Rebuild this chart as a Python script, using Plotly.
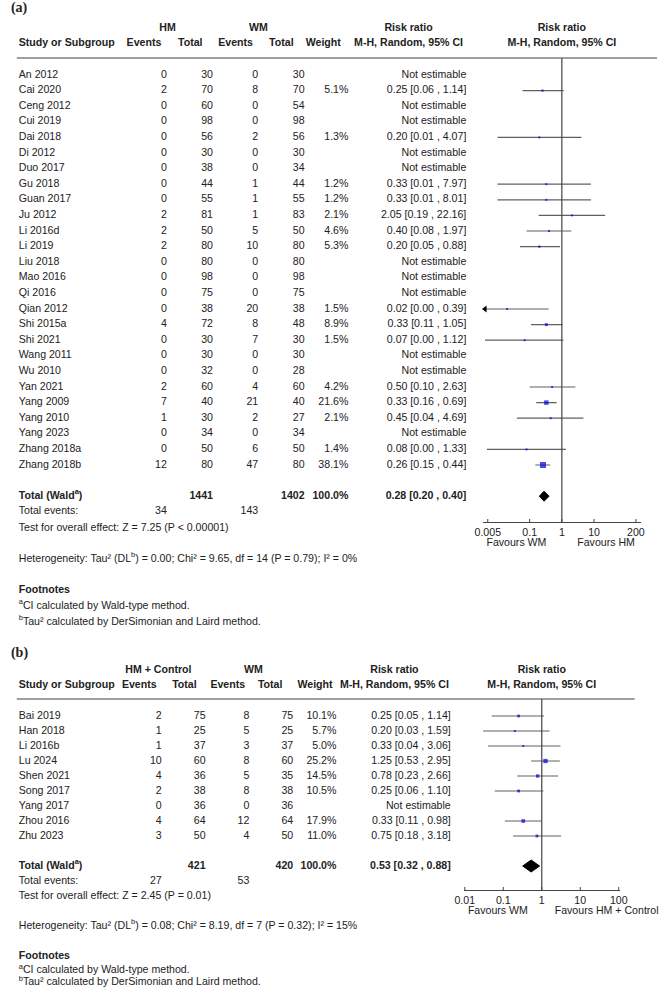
import math
import plotly.graph_objects as go

# ---------------- Data: panel (a) HM vs WM ----------------
studies_a = ["An 2012", "Cai 2020", "Ceng 2012", "Cui 2019", "Dai 2018", "Di 2012", "Duo 2017",
             "Gu 2018", "Guan 2017", "Ju 2012", "Li 2016d", "Li 2019", "Liu 2018", "Mao 2016",
             "Qi 2016", "Qian 2012", "Shi 2015a", "Shi 2021", "Wang 2011", "Wu 2010", "Yan 2021",
             "Yang 2009", "Yang 2010", "Yang 2023", "Zhang 2018a", "Zhang 2018b"]
hm_events_a = [0, 2, 0, 0, 0, 0, 0, 0, 0, 2, 2, 2, 0, 0, 0, 0, 4, 0, 0, 0, 2, 7, 1, 0, 0, 12]
hm_total_a = [30, 70, 60, 98, 56, 30, 38, 44, 55, 81, 50, 80, 80, 98, 75, 38, 72, 30, 30, 32, 60, 40, 30, 34, 50, 80]
wm_events_a = [0, 8, 0, 0, 2, 0, 0, 1, 1, 1, 5, 10, 0, 0, 0, 20, 8, 7, 0, 0, 4, 21, 2, 0, 6, 47]
wm_total_a = [30, 70, 54, 98, 56, 30, 34, 44, 55, 83, 50, 80, 80, 98, 75, 38, 48, 30, 30, 28, 60, 40, 27, 34, 50, 80]
weight_a = [None, 5.1, None, None, 1.3, None, None, 1.2, 1.2, 2.1, 4.6, 5.3, None, None, None,
            1.5, 8.9, 1.5, None, None, 4.2, 21.6, 2.1, None, 1.4, 38.1]
rr_a = [None, 0.25, None, None, 0.20, None, None, 0.33, 0.33, 2.05, 0.40, 0.20, None, None, None,
        0.02, 0.33, 0.07, None, None, 0.50, 0.33, 0.45, None, 0.08, 0.26]
lo_a = [None, 0.06, None, None, 0.01, None, None, 0.01, 0.01, 0.19, 0.08, 0.05, None, None, None,
        0.001, 0.11, 0.0041, None, None, 0.10, 0.16, 0.04, None, 0.0047, 0.15]
hi_a = [None, 1.14, None, None, 4.07, None, None, 7.97, 8.01, 22.16, 1.97, 0.88, None, None, None,
        0.39, 1.05, 1.12, None, None, 2.63, 0.69, 4.69, None, 1.33, 0.44]
total_a = dict(hm_total=1441, wm_total=1402, hm_events=34, wm_events=143, rr=0.28, lo=0.20, hi=0.40)
ticks_a = [0.005, 0.1, 1, 10, 200]
tick_labels_a = ["0.005", "0.1", "1", "10", "200"]

# ---------------- Data: panel (b) HM + Control vs WM ----------------
studies_b = ["Bai 2019", "Han 2018", "Li 2016b", "Lu 2024", "Shen 2021", "Song 2017", "Yang 2017",
             "Zhou 2016", "Zhu 2023"]
hm_events_b = [2, 1, 1, 10, 4, 2, 0, 4, 3]
hm_total_b = [75, 25, 37, 60, 36, 38, 36, 64, 50]
wm_events_b = [8, 5, 3, 8, 5, 8, 0, 12, 4]
wm_total_b = [75, 25, 37, 60, 35, 38, 36, 64, 50]
weight_b = [10.1, 5.7, 5.0, 25.2, 14.5, 10.5, None, 17.9, 11.0]
rr_b = [0.25, 0.20, 0.33, 1.25, 0.78, 0.25, None, 0.33, 0.75]
lo_b = [0.05, 0.03, 0.04, 0.53, 0.23, 0.06, None, 0.11, 0.18]
hi_b = [1.14, 1.59, 3.06, 2.95, 2.66, 1.10, None, 0.98, 3.18]
total_b = dict(hm_total=421, wm_total=420, hm_events=27, wm_events=53, rr=0.53, lo=0.32, hi=0.88)
ticks_b = [0.01, 0.1, 1, 10, 100]
tick_labels_b = ["0.01", "0.1", "1", "10", "100"]

# ---------------- Layout helpers ----------------
W, H = 667, 994
def px(x):
    return x / W
def py(y):
    return 1 - y / H

FONT = "Liberation Sans, Arial, sans-serif"
SERIF = "Liberation Serif, Times New Roman, serif"
TXT = "#222222"
LINE = "#444444"
CI = "#606060"
BLUE = "#0000DD"
FS = 10.6

groups = {}   # (anchor, bold, family, size) -> [xs, ys, texts]
shapes = []

def add(text, x, y, anchor="left", size=FS, bold=False, family=FONT):
    key = (anchor, bold, family, size)
    g = groups.setdefault(key, [[], [], []])
    g[0].append(x)
    g[1].append(y)
    g[2].append(text)

def hline(x0, x1, y, color="#808080", width=1.5):
    shapes.append(dict(type="line", xref="paper", yref="paper", x0=px(x0), x1=px(x1),
                       y0=py(y), y1=py(y), line=dict(color=color, width=width)))

def fmt_ci(r, l, h):
    return f"{r:.2f} [{l:.2f} , {h:.2f}]"

fig = go.Figure()

def panel(label, label_y, grp1, cols, hdr_y1, hdr_y2, hline_y, hline_x1,
          row0, dy, studies, e1, t1, e2, t2, wt, rr, lo, hi, tot,
          xaxis, yaxis, xdom, x_one, decade, ax_y, ticks, tlabels, fav_y, fav_l, fav_r,
          sq_k, dia_h, extra_rows, hetero, test, foot_rows):
    c = cols
    add(label, 2, label_y, size=14, bold=True, family=SERIF)
    # header
    add(grp1, c["g1"], hdr_y1, "center", bold=True)
    add("WM", c["g2"], hdr_y1, "center", bold=True)
    add("Risk ratio", c["rrh"], hdr_y1, "center", bold=True)
    add("Risk ratio", x_one, hdr_y1, "center", bold=True)
    add("Study or Subgroup", 10, hdr_y2, "left", bold=True)
    add("Events", c["e1h"], hdr_y2, "center", bold=True)
    add("Total", c["t1h"], hdr_y2, "center", bold=True)
    add("Events", c["e2h"], hdr_y2, "center", bold=True)
    add("Total", c["t2h"], hdr_y2, "center", bold=True)
    add("Weight", c["wh"], hdr_y2, "center", bold=True)
    add("M-H, Random, 95% CI", c["rrh"], hdr_y2, "center", bold=True)
    add("M-H, Random, 95% CI", x_one, hdr_y2, "center", bold=True)
    hline(8, hline_x1, hline_y)

    # rows
    for i, s in enumerate(studies):
        y = row0 + dy * i
        add(s, 10, y)
        add(str(e1[i]), c["e1"], y, "right")
        add(str(t1[i]), c["t1"], y, "right")
        add(str(e2[i]), c["e2"], y, "right")
        add(str(t2[i]), c["t2"], y, "right")
        if wt[i] is not None:
            add(f"{wt[i]:.1f}%", c["w"], y, "right")
            add(fmt_ci(rr[i], lo[i], hi[i]), c["rr"], y, "right")
        else:
            add("Not estimable", c["rr"], y, "right")

    n = len(studies)
    r_tot = n + 1
    y_tot = row0 + dy * r_tot
    add("Total (Wald<sup>a</sup>)", 10, y_tot, bold=True)
    add(str(tot["hm_total"]), c["t1"], y_tot, "right", bold=True)
    add(str(tot["wm_total"]), c["t2"], y_tot, "right", bold=True)
    add("100.0%", c["w"], y_tot, "right", bold=True)
    add(fmt_ci(tot["rr"], tot["lo"], tot["hi"]), c["rr"], y_tot, "right", bold=True)
    y_ev = row0 + dy * (r_tot + 1)
    add("Total events:", 10, y_ev)
    add(str(tot["hm_events"]), c["e1"], y_ev, "right")
    add(str(tot["wm_events"]), c["e2"], y_ev, "right")
    add(test, 10, extra_rows[0])
    add(hetero, 10, extra_rows[1])
    add("Footnotes", 10, foot_rows[0], bold=True)
    add("<sup>a</sup>CI calculated by Wald-type method.", 10, foot_rows[1])
    add("<sup>b</sup>Tau\u00b2 calculated by DerSimonian and Laird method.", 10, foot_rows[2])
    add(fav_l[0], fav_l[1], fav_y, "center")
    add(fav_r[0], fav_r[1], fav_y, "center")

    # forest axes
    x0, x1 = xdom
    rng = [(x0 - x_one) / decade, (x1 - x_one) / decade]
    xmin = 10 ** rng[0]
    top, bot = hline_y, ax_y
    yr = [(bot - row0) / dy, (top - row0) / dy]

    ci_x, ci_y = [], []
    sq_x, sq_y, sq_s = [], [], []
    arrows_x, arrows_y = [], []
    for i in range(n):
        if wt[i] is None:
            continue
        l = max(lo[i], xmin)
        ci_x += [l, hi[i], None]
        ci_y += [i, i, None]
        if lo[i] < xmin:
            arrows_x.append(10 ** (rng[0] + 2.5 / decade))
            arrows_y.append(i)
        sq_x.append(rr[i])
        sq_y.append(i)
        sq_s.append(max(2.0, sq_k * math.sqrt(wt[i])))

    fig.add_trace(go.Scatter(x=ci_x, y=ci_y, mode="lines", line=dict(color=CI, width=1.2),
                             xaxis=xaxis, yaxis=yaxis, hoverinfo="skip", cliponaxis=False))
    fig.add_trace(go.Scatter(x=sq_x, y=sq_y, mode="markers",
                             marker=dict(symbol="square", size=sq_s, color=BLUE, line=dict(width=0)),
                             xaxis=xaxis, yaxis=yaxis, hoverinfo="skip", cliponaxis=False))
    if arrows_x:
        fig.add_trace(go.Scatter(x=arrows_x, y=arrows_y, mode="markers",
                                 marker=dict(symbol="triangle-left", size=6, color="#000000"),
                                 xaxis=xaxis, yaxis=yaxis, hoverinfo="skip", cliponaxis=False))
    h = dia_h / dy
    fig.add_trace(go.Scatter(x=[tot["lo"], tot["rr"], tot["hi"], tot["rr"], tot["lo"]],
                             y=[r_tot, r_tot - h, r_tot, r_tot + h, r_tot],
                             mode="lines", fill="toself", fillcolor="#000000",
                             line=dict(color="#000000", width=1),
                             xaxis=xaxis, yaxis=yaxis, hoverinfo="skip"))
    # crossing tick marks
    tk = 3.0 / dy
    tx, ty = [], []
    for t in ticks:
        tx += [t, t, None]
        ty += [yr[0] - tk, yr[0] + tk, None]
    fig.add_trace(go.Scatter(x=tx, y=ty, mode="lines", line=dict(color=LINE, width=1),
                             xaxis=xaxis, yaxis=yaxis, hoverinfo="skip", cliponaxis=False))
    shapes.append(dict(type="line", xref=xaxis, yref="paper", x0=1, x1=1,
                       y0=py(bot), y1=py(top), line=dict(color=LINE, width=1.2)))

    axname = "xaxis" if xaxis == "x" else "xaxis" + xaxis[1:]
    ayname = "yaxis" if yaxis == "y" else "yaxis" + yaxis[1:]
    fig.update_layout(**{
        axname: dict(domain=[px(x0), px(x1)], type="log", range=rng, anchor=yaxis,
                     tickmode="array", tickvals=ticks, ticktext=tlabels,
                     showline=True, linecolor=LINE, linewidth=1.2, ticks="",
                     showgrid=False, zeroline=False,
                     tickfont=dict(family=FONT, size=FS, color=TXT), fixedrange=True),
        ayname: dict(domain=[py(bot), py(top)], range=yr, visible=False, anchor=xaxis,
                     fixedrange=True),
    })


panel("(a)", 8, "HM",
      dict(g1=162.7, g2=256, rrh=410, e1h=138.5, t1h=186, e2h=232.5, t2h=279.5, wh=322.5,
           e1=162, t1=209.3, e2=255.7, t2=303.3, w=348.3, rr=469.3),
      28.3, 43.3, 58, 665, 75, 15.6,
      studies_a, hm_events_a, hm_total_a, wm_events_a, wm_total_a, weight_a, rr_a, lo_a, hi_a, total_a,
      "x", "y", (486, 649), 567.3, 33.03, 522, ticks_a, tick_labels_a,
      543.8, ("Favours WM", 520.7), ("Favours HM", 612.7),
      0.97, 5.0, (528, 559.3),
      "Heterogeneity: Tau\u00b2 (DL<sup>b</sup>) = 0.00; Chi\u00b2 = 9.65, df = 14 (P = 0.79); I\u00b2 = 0%",
      "Test for overall effect: Z = 7.25 (P < 0.00001)",
      (590.7, 606, 622))

panel("(b)", 653.3, "HM + Control",
      dict(g1=153.3, g2=250.7, rrh=395.5, e1h=133.7, t1h=180, e2h=224.5, t2h=268, wh=314,
           e1=156.7, t1=201.7, e2=246.7, t2=291.7, w=336, rr=453.3),
      670.7, 685.3, 699, 642, 716, 15.0,
      studies_b, hm_events_b, hm_total_b, wm_events_b, wm_total_b, weight_b, rr_b, lo_b, hi_b, total_b,
      "x2", "y2", (466.7, 626.7), 546.7, 39.5, 890, ticks_b, tick_labels_b,
      911.2, ("Favours WM", 501.7), ("Favours HM + Control", 613.3),
      0.86, 6.0, (896, 926),
      "Heterogeneity: Tau\u00b2 (DL<sup>b</sup>) = 0.08; Chi\u00b2 = 8.19, df = 7 (P = 0.32); I\u00b2 = 15%",
      "Test for overall effect: Z = 2.45 (P = 0.01)",
      (956, 970.7, 982.5))

# table text on a full-page pixel overlay
POS = {"left": "middle right", "right": "middle left", "center": "middle center"}
for (anchor, bold, family, size), (xs, ys, ts) in groups.items():
    fig.add_trace(go.Scatter(x=xs, y=ys, text=ts, mode="text", textposition=POS[anchor],
                             textfont=dict(family=family, size=size, color=TXT,
                                           weight="bold" if bold else "normal"),
                             xaxis="x3", yaxis="y3", hoverinfo="skip", cliponaxis=False))

fig.update_layout(
    xaxis3=dict(domain=[0, 1], range=[0, W], visible=False, anchor="y3", fixedrange=True),
    yaxis3=dict(domain=[0, 1], range=[H, 0], visible=False, anchor="x3", fixedrange=True),
)

fig.update_layout(width=W, height=H, autosize=False, margin=dict(l=0, r=0, t=0, b=0, pad=0),
                  paper_bgcolor="white", plot_bgcolor="rgba(0,0,0,0)", showlegend=False,
                  hovermode=False, shapes=shapes,
                  font=dict(family=FONT, size=FS, color=TXT))

fig.write_html("out.html", config={"displayModeBar": False, "staticPlot": True})
